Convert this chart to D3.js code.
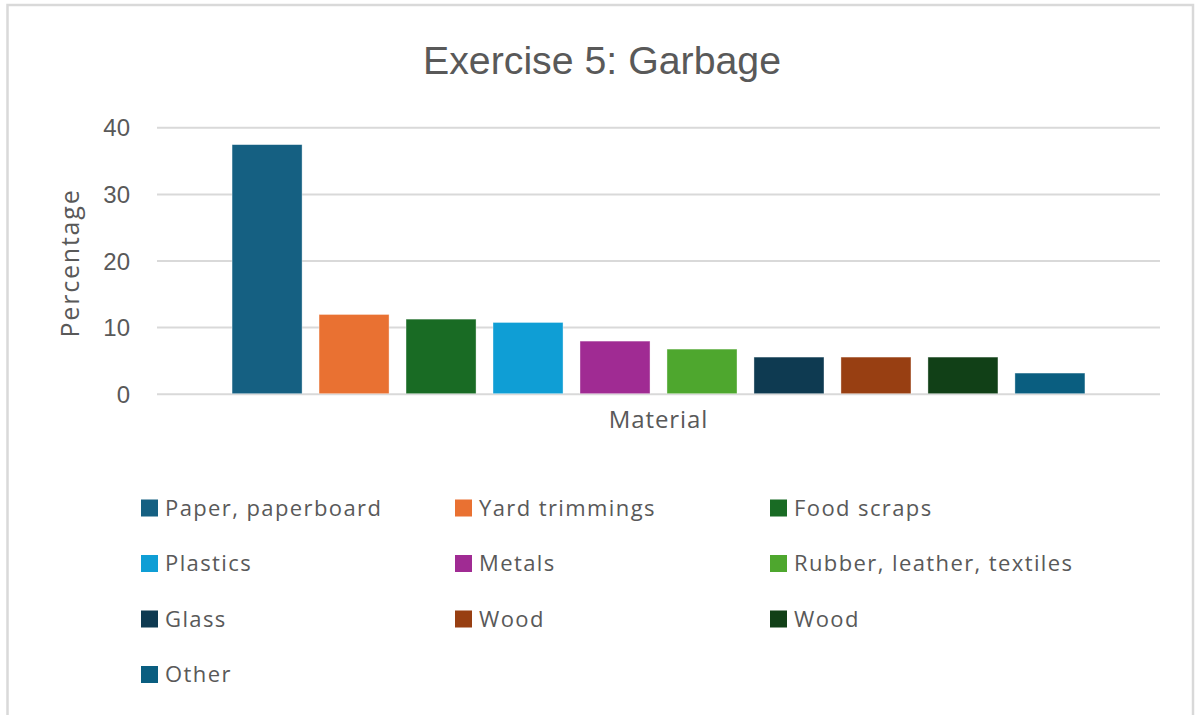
<!DOCTYPE html>
<html>
<head>
<meta charset="utf-8">
<script src="https://cdn.jsdelivr.net/npm/d3@7"></script>
<style>
  html, body { margin: 0; padding: 0; background: #ffffff; }
  svg { display: block; }
</style>
</head>
<body>
<svg id="chart" width="1195" height="715"></svg>
<script>
// Garbage composition by material (percent of total)
const category = ["Material"];
const materials = [
  "Paper, paperboard", "Yard trimmings", "Food scraps", "Plastics", "Metals",
  "Rubber, leather, textiles", "Glass", "Wood", "Wood", "Other"
];
const percentages = [37.4, 11.9, 11.2, 10.7, 7.9, 6.7, 5.5, 5.5, 5.5, 3.1];
const colors = [
  "#156082", "#E97132", "#196B24", "#0F9ED5", "#A02B93",
  "#4EA72E", "#0E3A51", "#983F12", "#114017", "#0A5E80"
];
const yTicks = [0, 10, 20, 30, 40];

const W = 1195, H = 715;
const svg = d3.select("#chart");
const textColor = "#595959";
const uiFont = "'Open Sans', Lato, 'DejaVu Sans', sans-serif";

// Chart frame
svg.append("rect")
  .attr("x", 7.5).attr("y", 5).attr("width", 1185.5).attr("height", H + 20)
  .attr("fill", "#ffffff").attr("stroke", "#d9d9d9").attr("stroke-width", 2.5);

// Title
svg.append("text")
  .attr("x", 602).attr("y", 74)
  .attr("text-anchor", "middle")
  .attr("font-family", "'Liberation Sans Narrow', 'Liberation Sans', Arial, sans-serif")
  .attr("font-size", 38)
  .attr("fill", textColor)
  .attr("textLength", 358)
  .attr("lengthAdjust", "spacingAndGlyphs")
  .text("Exercise 5: Garbage");

// Plot area
const plot = { left: 157, right: 1160, top: 127.3, bottom: 393.7 };

const y = d3.scaleLinear().domain([0, 40]).range([plot.bottom, plot.top]);

// One category holding ten side-by-side series
const x0 = d3.scaleBand().domain(category)
  .range([plot.left, plot.right]).paddingInner(0).paddingOuter(0.088);
const x1 = d3.scaleBand().domain(d3.range(materials.length))
  .range([0, x0.bandwidth()]).paddingInner(0.195).paddingOuter(0);

// Gridlines
const yAxis = d3.axisLeft(y).tickValues(yTicks)
  .tickSize(-(plot.right - plot.left)).tickPadding(27);
const gy = svg.append("g")
  .attr("transform", `translate(${plot.left},0)`)
  .call(yAxis);
gy.select(".domain").remove();
gy.selectAll(".tick line").attr("stroke", "#d9d9d9").attr("stroke-width", 2);
gy.selectAll(".tick text")
  .attr("fill", textColor)
  .attr("font-family", "'Liberation Sans', Arial, sans-serif")
  .attr("font-size", 24)
  .attr("dy", "0.36em");

// Bars
const bars = svg.append("g")
  .attr("transform", `translate(${x0(category[0])},0)`);
bars.selectAll("rect")
  .data(percentages)
  .join("rect")
  .attr("x", (d, i) => x1(i))
  .attr("y", d => y(d))
  .attr("width", x1.bandwidth())
  .attr("height", d => y(0) - y(d))
  .attr("fill", (d, i) => colors[i])
  .attr("stroke", "#ffffff")
  .attr("stroke-opacity", 0.5)
  .attr("stroke-width", 0.75);

// Category label under the cluster
const xAxis = d3.axisBottom(x0).tickSize(0).tickPadding(17);
const gx = svg.append("g")
  .attr("transform", `translate(0,${plot.bottom})`)
  .call(xAxis);
gx.select(".domain").remove();
gx.selectAll(".tick text")
  .attr("fill", textColor)
  .attr("font-family", uiFont)
  .attr("font-size", 24)
  .attr("letter-spacing", 0.9)
  .attr("dy", "0.71em");

// Y axis title
svg.append("text")
  .attr("transform", "translate(79,263) rotate(-90)")
  .attr("text-anchor", "middle")
  .attr("font-family", uiFont)
  .attr("font-size", 25)
  .attr("letter-spacing", 1.8)
  .attr("fill", textColor)
  .text("Percentage");

// Legend: three columns
const legendCols = [141, 455, 770];
const legendTop = 508, legendStep = 55.5, swatch = 17;
const legend = svg.append("g")
  .selectAll("g")
  .data(materials)
  .join("g")
  .attr("transform", (d, i) =>
    `translate(${legendCols[i % 3]},${legendTop + Math.floor(i / 3) * legendStep})`);
legend.append("rect")
  .attr("x", 0).attr("y", -swatch / 2)
  .attr("width", swatch).attr("height", swatch)
  .attr("fill", (d, i) => colors[i]);
legend.append("text")
  .attr("x", 24).attr("y", 0)
  .attr("dy", "0.35em")
  .attr("font-family", uiFont)
  .attr("font-size", 22)
  .attr("letter-spacing", 1.4)
  .attr("fill", textColor)
  .text(d => d);
</script>
</body>
</html>
